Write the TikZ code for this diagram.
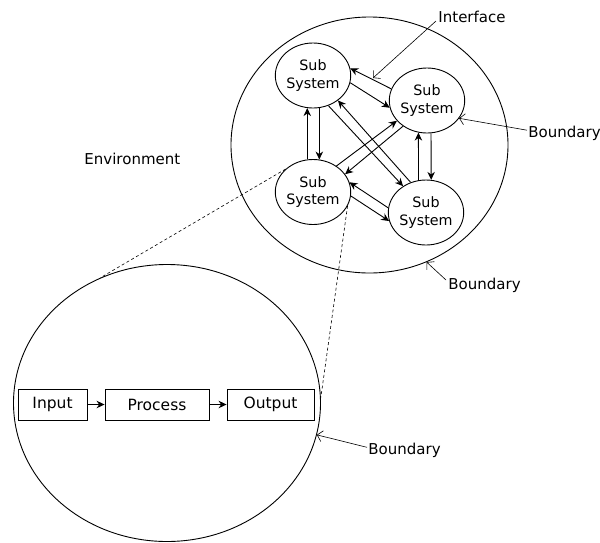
\documentclass[tikz,border=0pt]{standalone}
\usepackage{fontspec}
\setmainfont{DejaVu Sans}
\usetikzlibrary{shapes.geometric,arrows.meta}
\begin{document}
\begin{tikzpicture}[x=1pt,y=-1pt,
  line width=0.9pt,
  bigell/.style={draw, ellipse, inner sep=0pt},
  subsys/.style={draw, ellipse, minimum width=70pt, minimum height=65pt, inner sep=0pt,
    align=center, font=\fontsize{14.3}{17.5}\selectfont},
  flow/.style={-{Stealth[length=8pt,width=7.5pt]}},
  pointer/.style={-{Straight Barb[length=5pt,width=11pt]}, line width=0.6pt},
  lbl/.style={font=\fontsize{15}{18}\selectfont, inner sep=0pt, anchor=base west},
  box/.style={draw, minimum height=31pt, inner sep=0pt, font=\fontsize{15.5}{18}\selectfont},
  zoomline/.style={line width=0.6pt, dash pattern=on 3pt off 2.5pt}
]
\useasboundingbox (0,0) rectangle (600,542);

% big ellipses
\node[bigell, minimum width=277pt, minimum height=256pt] (env) at (369.5,145) {};
\node[bigell, minimum width=307pt, minimum height=277pt] (sys) at (167,403) {};

% subsystems
\node[subsys] (s1) at (313,75.5) {Sub\\System};
\node[subsys] (s2) at (427,100.5) {Sub\\System};
\node[subsys] (s3) at (313,192) {Sub\\System};
\node[subsys] (s4) at (426,212.5) {Sub\\System};

% S1 - S2
\draw[flow] (s2.162.8) -- (s1.11);
\draw[flow] (s1.-11.9) -- (s2.191.5);
% S3 - S4
\draw[flow] (s4.173) -- (s3.15.6);
\draw[flow] (s3.-6.9) -- (s4.193.7);
% S1 - S3
\draw[flow] (s3.100.5) -- (s1.-100.3);
\draw[flow] (s1.-79.7) -- (s3.79.5);
% S2 - S4
\draw[flow] (s4.103.4) -- (s2.-105.4);
\draw[flow] (s2.-83.5) -- (s4.81.8);
% S1 - S4
\draw[flow] (s1.-63.9) -- (s4.131.5);
\draw[flow] (s4.117.5) -- (s1.-45.9);
% S3 - S2
\draw[flow] (s3.48.3) -- (s2.214.2);
\draw[flow] (s2.227.7) -- (s3.29.9);

% zoom lines
\draw[zoomline] (s3.140) -- (sys.118);
\draw[zoomline] (s3.-22) -- (sys.2);

% process chain
\node[box, minimum width=69pt] (in) at (52.5,404.5) {Input};
\node[box, minimum width=104pt] (proc) at (157,404.5) {Process};
\node[box, minimum width=87pt] (out) at (270.5,404.5) {Output};
\draw[flow] (in) -- (proc);
\draw[flow] (proc) -- (out);

% labels
\node[lbl] (envlbl) at (84,164) {Environment};
\node[lbl] (intf) at (438,22) {Interface};
\node[lbl] (b1) at (528,137.7) {Boundary};
\node[lbl] (b2) at (448,289) {Boundary};
\node[lbl] (b3) at (368,454.3) {Boundary};

\coordinate (itip) at (373,78);
\draw[pointer] ([xshift=-2pt,yshift=1pt]intf.base west) -- (itip);
\draw[pointer] ([xshift=-1pt,yshift=7.5pt]b1.base west) -- (s2.-29);
\draw[pointer] ([xshift=-2pt,yshift=9pt]b2.base west) -- (env.-64);
\draw[pointer] ([xshift=-1pt,yshift=7pt]b3.base west) -- (sys.-12);
\end{tikzpicture}
\end{document}
